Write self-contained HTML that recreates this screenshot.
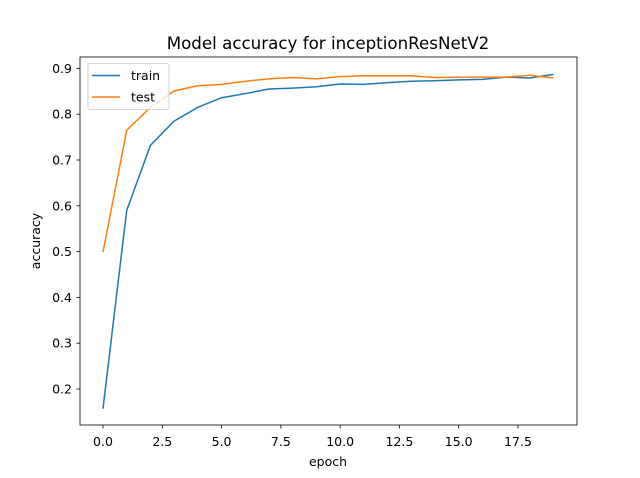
<!DOCTYPE html>
<html><head><meta charset="utf-8"><style>body{margin:0;background:#fff}svg{display:block}text{font-family:"DejaVu Sans","Liberation Sans",sans-serif;fill:#000}</style></head>
<body>
<svg id="chart" width="640" height="478" viewBox="0 0 640 478" xmlns="http://www.w3.org/2000/svg">
<rect width="640" height="478" fill="#fff"/>
<text x="328" y="49" font-size="16.7" text-anchor="middle">Model accuracy for inceptionResNetV2</text>
<g id="plot"></g>
<text x="328" y="466" font-size="12.5" text-anchor="middle">epoch</text>
<text transform="translate(40,241) rotate(-90)" font-size="12.5" text-anchor="middle">accuracy</text>
</svg>
<script>
const epochs=[0,1,2,3,4,5,6,7,8,9,10,11,12,13,14,15,16,17,18,19];
const trainAcc=[0.157,0.59,0.732,0.785,0.815,0.836,0.845,0.855,0.857,0.860,0.866,0.865,0.869,0.872,0.873,0.875,0.876,0.881,0.879,0.887];
const testAcc=[0.499,0.765,0.815,0.851,0.862,0.865,0.872,0.877,0.880,0.877,0.882,0.884,0.884,0.884,0.880,0.881,0.881,0.881,0.885,0.879];
const xTicks=[0,2.5,5,7.5,10,12.5,15,17.5];
const yTicks=[0.2,0.3,0.4,0.5,0.6,0.7,0.8,0.9];
const L=80,R=577,T=57,B=425;
const sx=v=>103+v*(415/17.5);
const sy=v=>389-(v-0.2)*458;
const NS="http://www.w3.org/2000/svg",g=document.getElementById('plot');
function mk(t,a){const e=document.createElementNS(NS,t);for(const k in a)e.setAttribute(k,a[k]);g.appendChild(e);return e;}
xTicks.forEach(v=>{const l=mk('line',{x1:sx(v),x2:sx(v),y1:B,y2:B+3.5,stroke:'#000','stroke-width':0.8});

const t=mk('text',{x:sx(v),y:B+21,'font-size':12.5,'text-anchor':'middle'});t.textContent=v.toFixed(1);
});
yTicks.forEach(v=>{const l=mk('line',{x1:L-3.5,x2:L,y1:sy(v),y2:sy(v),stroke:'#000','stroke-width':0.8});

const t=mk('text',{x:L-8,y:sy(v)+4.5,'font-size':12.5,'text-anchor':'end'});t.textContent=v.toFixed(1);
});
function line(d,c,n){const p=mk('polyline',{points:d.map((v,i)=>sx(epochs[i])+','+sy(v)).join(' '),fill:'none',stroke:c,'stroke-width':1.5});
}
line(trainAcc,'#1f77b4','train-line');line(testAcc,'#ff7f0e','test-line');
const f=mk('rect',{x:L,y:T,width:R-L,height:B-T,fill:'none',stroke:'#000','stroke-width':0.8});

const lg=mk('rect',{x:88,y:63.5,width:81,height:46,fill:'#fff','fill-opacity':0.8,stroke:'#ccc','stroke-width':0.8,rx:2});

[['train','#1f77b4',75.5],['test','#ff7f0e',97]].forEach(([n,c,y])=>{
const l=mk('line',{x1:92,x2:120,y1:y,y2:y,stroke:c,'stroke-width':1.5});

const t=mk('text',{x:131,y:y+4.5,'font-size':12.5});t.textContent=n;
});
</script>
</body></html>
